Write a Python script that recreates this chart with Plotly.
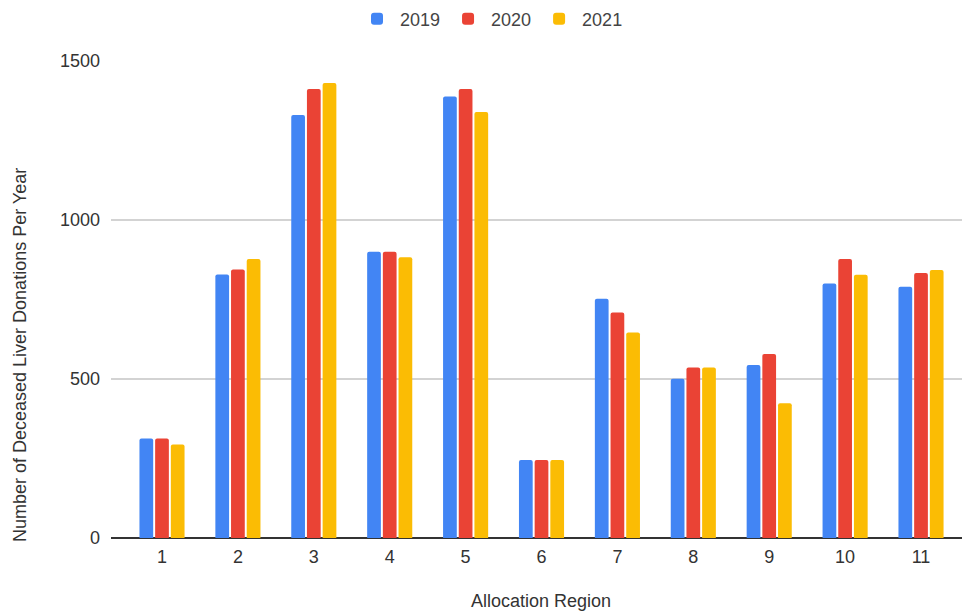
import plotly.graph_objects as go

# Allocation regions and yearly deceased liver donation counts
regions = [1, 2, 3, 4, 5, 6, 7, 8, 9, 10, 11]
tick_labels = [str(r) for r in regions]
years = ["2019", "2020", "2021"]
donations_2019 = [313, 829, 1330, 900, 1388, 245, 752, 501, 544, 800, 790]
donations_2020 = [313, 844, 1412, 900, 1412, 245, 709, 536, 579, 877, 833]
donations_2021 = [294, 877, 1431, 883, 1340, 245, 646, 536, 424, 828, 843]
colors = ["#4285F4", "#EA4335", "#FBBC04"]

FONT = "Liberation Sans, Arial, sans-serif"

fig = go.Figure()
for name, vals, col in zip(years, [donations_2019, donations_2020, donations_2021], colors):
    fig.add_trace(go.Bar(x=regions, y=vals, name=name, marker=dict(color=col, line_width=0)))

W, H = 963, 613
L, R, T, B = 111, 1, 61, 75
pw, ph = W - L - R, H - T - B

def px_x(x):
    return (x - L) / pw

def px_y(y):
    return (H - B - y) / ph

fig.update_layout(
    width=W, height=H,
    margin=dict(l=L, r=R, t=T, b=B),
    plot_bgcolor="white", paper_bgcolor="white",
    barmode="group", bargap=0.38, bargroupgap=0.125, barcornerradius=2,
    font=dict(family=FONT, size=18, color="#444444"),
    legend=dict(orientation="h", x=px_x(491), xanchor="center", y=px_y(19), yanchor="middle",
                font=dict(size=18, color="#444444"), itemwidth=36, traceorder="normal"),
    showlegend=True,
)
fig.update_xaxes(
    range=[0.328, 11.54], tickmode="array", tickvals=regions, ticktext=tick_labels,
    showgrid=False, zeroline=False, showline=False, ticks="", ticklabelstandoff=6,
    tickfont=dict(size=18, color="#333333"),
)
fig.update_yaxes(
    range=[0, 1500], tickvals=[0, 500, 1000, 1500], showgrid=True, gridcolor="#d3d3d3", gridwidth=1.5,
    zeroline=True, zerolinecolor="#333333", zerolinewidth=1.5, showline=False, ticks="",
    ticklabelstandoff=10, tickfont=dict(size=18, color="#333333"),
)
fig.add_annotation(text="Number of Deceased Liver Donations Per Year", textangle=-90,
                   xref="paper", yref="paper", x=px_x(20), y=px_y(355), showarrow=False,
                   xanchor="center", yanchor="middle", font=dict(size=18, color="#333333"))
fig.add_annotation(text="Allocation Region", xref="paper", yref="paper", x=px_x(541), y=px_y(601),
                   showarrow=False, xanchor="center", yanchor="middle", font=dict(size=18, color="#333333"))

fig.write_html("out.html")
